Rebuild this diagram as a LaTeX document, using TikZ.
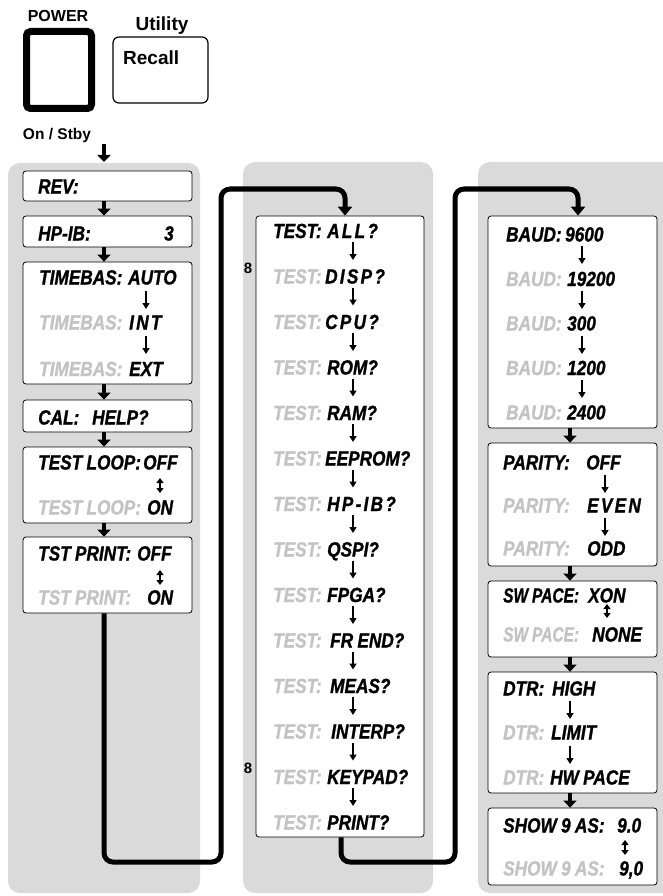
\documentclass[tikz,border=0pt]{standalone}
\usepackage{fontspec}
\setmainfont{Liberation Sans}
\newfontfamily\cf[FakeStretch=0.84,WordSpace=0.9,FakeBold=1.1]{Liberation Sans}
\newfontfamily\cfls[FakeStretch=0.84,LetterSpace=11,FakeBold=1.1]{Liberation Sans}
\newcommand\LS[1]{{\cfls #1}}
\newcommand\NX[1]{\scalebox{0.9}[1]{#1}}
\usetikzlibrary{arrows.meta}
\definecolor{panel}{RGB}{218,218,218}
\definecolor{grayt}{RGB}{195,195,195}
\tikzset{
 panelbg/.style={fill=panel, rounded corners=12pt},
 box/.style={draw, line width=0.8pt, fill=white, rounded corners=3pt, inner sep=0pt},
 lbl/.style={inner sep=0pt, anchor=base west, font=\cf\bfseries\itshape\fontsize{20.5}{24}\selectfont},
 glbl/.style={lbl, text=grayt},
 hdr/.style={inner sep=0pt, anchor=base, font=\bfseries\fontsize{16}{18}\selectfont},
 thickarrow/.style={line width=4.5pt, -{Triangle[width=13pt,length=7pt]}},
 conn/.style={line width=5pt, rounded corners=9pt, -{Triangle[width=14pt,length=9pt]}},
 sarr/.style={line width=1.4pt, -{Triangle[width=7pt,length=6pt]}},
 darr/.style={line width=1.4pt, {Triangle[width=7pt,length=5pt]}-{Triangle[width=7pt,length=5pt]}},
}
\begin{document}
\begin{tikzpicture}[x=1pt,y=-1pt]
\useasboundingbox (0,0) rectangle (663,896);
% panels
\fill[panelbg] (8,163) rectangle (200,893);
\fill[panelbg] (243,162) rectangle (433,893);
\fill[panelbg] (478,162) rectangle (676,893);
% keys
\node[hdr] (powerlbl) at (58,22) {POWER};
\node[draw, line width=7pt, rounded corners=4pt, minimum width=65pt, minimum height=77pt, inner sep=0pt] (power) at (59,70) {};
\node[hdr, font=\bfseries\fontsize{19}{21}\selectfont] (utillbl) at (162,31) {Utility};
\node[draw, line width=1.2pt, rounded corners=6pt, minimum width=95pt, minimum height=66pt, inner sep=0pt] (recall) at (160.5,70) {};
\node[inner sep=0pt, anchor=base west, font=\bfseries\fontsize{19}{21}\selectfont] (recalllbl) at (123,65) {Recall};
\node[hdr, font=\bfseries\fontsize{15.5}{18}\selectfont] (onstby) at (57,140) {On / Stby};
\coordinate (pa) at (104,144);
\coordinate (pb) at (104,162);
\draw[thickarrow] (pa) -- (pb);
% left column boxes
\node[box, minimum width=169pt, minimum height=30pt] (rev) at (107.5,186) {};
\node[box, minimum width=169pt, minimum height=31pt] (hpib) at (107.5,231.5) {};
\node[box, minimum width=169pt, minimum height=122pt] (timebas) at (107.5,323) {};
\node[box, minimum width=169pt, minimum height=32pt] (cal) at (107.5,416) {};
\node[box, minimum width=169pt, minimum height=76pt] (tloop) at (107.5,485) {};
\node[box, minimum width=169pt, minimum height=76pt] (tprint) at (107.5,575) {};
\coordinate (lx) at (104,0);
\draw[thickarrow] (rev.south -| lx) -- (hpib.north -| lx);
\draw[thickarrow] (hpib.south -| lx) -- (timebas.north -| lx);
\draw[thickarrow] (timebas.south -| lx) -- (cal.north -| lx);
\draw[thickarrow] (cal.south -| lx) -- (tloop.north -| lx);
\draw[thickarrow] (tloop.south -| lx) -- (tprint.north -| lx);
% left texts
\node[lbl] (revl) at (38,193.5) {REV:};
\node[lbl] (hpibl) at (38,240.5) {HP-IB:};
\node[lbl] (hpibv) at (164,240.5) {3};
\node[lbl] (tb1l) at (39,284.5) {TIMEBAS:};
\node[lbl] (tb1v) at (128,284.5) {AUTO};
\draw[sarr] (146,291) -- (146,309);
\node[glbl] (tb2l) at (39,329.5) {TIMEBAS:};
\node[lbl] (tb2v) at (129,329.5) {\LS{INT}};
\draw[sarr] (146,336) -- (146,354);
\node[glbl] (tb3l) at (39,376) {TIMEBAS:};
\node[lbl] (tb3v) at (129,376) {EXT};
\node[lbl] (call) at (38,424.5) {CAL:};
\node[lbl] (calv) at (92,424.5) {HELP?};
\node[lbl] (tl1l) at (38,469.5) {TEST LOOP:};
\node[lbl] (tl1v) at (143,469.5) {OFF};
\draw[darr] (160,478) -- (160,493);
\node[glbl] (tl2l) at (38,514.5) {TEST LOOP:};
\node[lbl] (tl2v) at (147,514.5) {ON};
\node[lbl] (tp1l) at (38,560.5) {TST PRINT:};
\node[lbl] (tp1v) at (137,560.5) {OFF};
\draw[darr] (160,570) -- (160,585);
\node[glbl] (tp2l) at (38,604.5) {TST PRINT:};
\node[lbl] (tp2v) at (147,604.5) {ON};
% middle column
\node[box, minimum width=168pt, minimum height=621pt] (test) at (340,526.5) {};
\node[inner sep=0pt, anchor=base, font=\bfseries\fontsize{15}{18}\selectfont] (eight1) at (248,273) {8};
\node[inner sep=0pt, anchor=base, font=\bfseries\fontsize{15}{18}\selectfont] (eight2) at (248,773) {8};
\node[lbl] (ml0) at (273,238) {TEST:};
\node[lbl] (mv0) at (327,238) {\LS{ALL?}};
\foreach \v/\xx [count=\i] in {\LS{DISP?}/325, \LS{CPU?}/325, ROM?/327, RAM?/327, EEPROM?/325, \LS{HP-IB?}/327, QSPI?/327, FPGA?/327, FR END?/330, MEAS?/330, INTERP?/331, KEYPAD?/327, PRINT?/327}{
  \node[glbl] (ml\i) at (273,{238+45.5*\i}) {TEST:};
  \node[lbl] (mv\i) at (\xx,{238+45.5*\i}) {\v};
}
\foreach \i in {0,...,12}{
  \draw[sarr] (353,{231+45.5*\i+11}) -- (353,{231+45.5*\i+29});
}
% right column boxes
\node[box, minimum width=169pt, minimum height=212pt] (baud) at (572.5,322) {};
\node[box, minimum width=169pt, minimum height=123pt] (parity) at (572.5,504.5) {};
\node[box, minimum width=169pt, minimum height=76pt] (swpace) at (572.5,619) {};
\node[box, minimum width=169pt, minimum height=121pt] (dtr) at (572.5,732.5) {};
\node[box, minimum width=169pt, minimum height=77pt] (show) at (572.5,846.5) {};
\coordinate (rx) at (570,0);
\draw[thickarrow] (baud.south -| rx) -- (parity.north -| rx);
\draw[thickarrow] (parity.south -| rx) -- (swpace.north -| rx);
\draw[thickarrow] (swpace.south -| rx) -- (dtr.north -| rx);
\draw[thickarrow] (dtr.south -| rx) -- (show.north -| rx);
% right texts
\node[lbl] (b1l) at (506,241.5) {BAUD:};
\node[lbl] (b1v) at (565,241.5) {9600};
\node[glbl] (b2l) at (506,286) {BAUD:};
\node[lbl] (b2v) at (567,286) {19200};
\node[glbl] (b3l) at (506,330.5) {BAUD:};
\node[lbl] (b3v) at (567,330.5) {300};
\node[glbl] (b4l) at (506,375) {BAUD:};
\node[lbl] (b4v) at (567,375) {1200};
\node[glbl] (b5l) at (506,419.5) {BAUD:};
\node[lbl] (b5v) at (567,419.5) {2400};
\foreach \c in {255,300,345,389}{
  \draw[sarr] (582,{\c-9}) -- (582,{\c+9});
}
\node[lbl] (p1l) at (503,469.5) {PARITY:};
\node[lbl] (p1v) at (586,469.5) {OFF};
\draw[sarr] (605,475) -- (605,493);
\node[glbl] (p2l) at (503,512.5) {PARITY:};
\node[lbl] (p2v) at (587,512.5) {\LS{EVEN}};
\draw[sarr] (605,518) -- (605,536);
\node[glbl] (p3l) at (503,555.5) {PARITY:};
\node[lbl] (p3v) at (587,555.5) {ODD};
\node[lbl] (s1l) at (503,602.5) {\NX{SW PACE:}};
\node[lbl] (s1v) at (588,602.5) {XON};
\draw[darr] (607,604) -- (607,618);
\node[glbl] (s2l) at (503,641.5) {\NX{SW PACE:}};
\node[lbl] (s2v) at (592,641.5) {NONE};
\node[lbl] (d1l) at (503,695.5) {DTR:};
\node[lbl] (d1v) at (552,695.5) {HIGH};
\draw[sarr] (570,701) -- (570,719);
\node[glbl] (d2l) at (503,739.5) {DTR:};
\node[lbl] (d2v) at (551,739.5) {LIMIT};
\draw[sarr] (570,746) -- (570,764);
\node[glbl] (d3l) at (503,784.5) {DTR:};
\node[lbl] (d3v) at (550,784.5) {HW PACE};
\node[lbl] (sh1l) at (503,832.5) {SHOW 9 AS:};
\node[lbl] (sh1v) at (617,832.5) {9.0};
\draw[darr] (625,840) -- (625,855);
\node[glbl] (sh2l) at (503,875.5) {SHOW 9 AS:};
\node[lbl] (sh2v) at (619,875.5) {9,0};
% connectors
\coordinate (k1) at (104,862);
\coordinate (k2) at (221,862);
\coordinate (k3) at (221,189);
\coordinate (k4) at (345,189);
\draw[conn] (tprint.south -| k1) -- (k1) -- (k2) -- (k3) -- (k4) -- (test.north -| k4);
\coordinate (k5) at (341,862);
\coordinate (k6) at (455,862);
\coordinate (k7) at (455,189);
\coordinate (k8) at (578,189);
\draw[conn] (test.south -| k5) -- (k5) -- (k6) -- (k7) -- (k8) -- (baud.north -| k8);
\end{tikzpicture}
\end{document}
